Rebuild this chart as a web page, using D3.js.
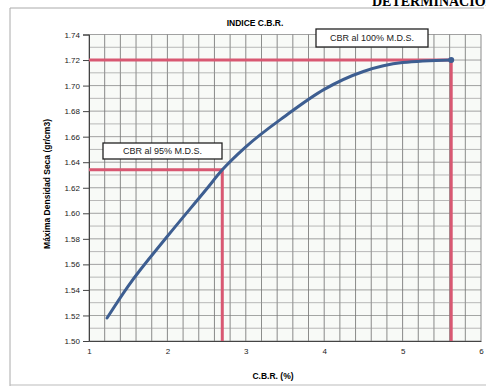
<!DOCTYPE html>
<html>
<head>
<meta charset="utf-8">
<script src="https://cdn.jsdelivr.net/npm/d3@7"></script>
<style>
  body { margin: 0; background: #fff; }
  text { font-family: "Liberation Sans", Arial, sans-serif; }
</style>
</head>
<body>
<svg id="chart" width="486" height="386"></svg>
<script>
// values
const cbrValues = [1.23, 1.5, 2.0, 2.5, 2.7, 3.0, 3.5, 4.0, 4.5, 5.0, 5.62];
const densityValues = [1.518, 1.543, 1.582, 1.619, 1.634, 1.652, 1.676, 1.697, 1.711, 1.718, 1.720];
const xTicks = [1, 2, 3, 4, 5, 6];
const yTicks = [1.50, 1.52, 1.54, 1.56, 1.58, 1.60, 1.62, 1.64, 1.66, 1.68, 1.70, 1.72, 1.74];
const mds = 1.72, cbr100 = 5.62;
const dens95 = 1.634, cbr95 = 2.70;

const svg = d3.select("#chart");
const plotL = 89, plotR = 481, plotT = 34.5, plotB = 341;

const x = d3.scaleLinear().domain([1, 6]).range([plotL, plotR]);
const y = d3.scaleLinear().domain([1.50, 1.74]).range([plotB, plotT]);

// outer frame
svg.append("path")
    .attr("d", "M10,386 L10,8 L484,8")
    .attr("fill", "none").attr("stroke", "#aaa").attr("stroke-width", 1);
svg.append("line").attr("x1", 10).attr("x2", 486).attr("y1", 385).attr("y2", 385)
    .attr("stroke", "#bbb");

// header cut off at top
svg.append("text")
    .attr("x", 372).attr("y", 6)
    .style("font-family", "'Liberation Serif', serif")
    .style("font-weight", "bold").style("font-size", "14px")
    .text("DETERMINACIÓN");

// plot background
svg.append("rect")
    .attr("x", plotL).attr("y", plotT)
    .attr("width", plotR - plotL).attr("height", plotB - plotT)
    .attr("fill", "#f8faf7");

// grid
const g = svg.append("g");
g.selectAll("line.vminor")
    .data(d3.range(1, 6.001, 0.2))
    .enter().append("line")
    .attr("x1", d => x(d)).attr("x2", d => x(d))
    .attr("y1", plotT).attr("y2", plotB)
    .attr("stroke", "#555").attr("stroke-width", 0.9).attr("opacity", 0.75);
g.selectAll("line.hminor")
    .data(d3.range(1.50, 1.7401, 0.01))
    .enter().append("line")
    .attr("x1", plotL).attr("x2", plotR)
    .attr("y1", d => y(d)).attr("y2", d => y(d))
    .attr("stroke", (d, i) => i % 2 === 0 ? "#777" : "#999")
    .attr("stroke-width", 0.9).attr("opacity", 0.75);

// axes
const yAxis = d3.axisLeft(y).tickValues(yTicks).tickFormat(d3.format(".2f")).tickSize(6);
svg.append("g")
    .attr("transform", `translate(${plotL},0)`)
    .call(yAxis)
    .call(a => a.select(".domain").attr("stroke", "#444"))
    .call(a => a.selectAll(".tick line").attr("stroke", "#444"))
    .call(a => a.selectAll(".tick text").attr("fill", "#222").style("font-size", "8px")
        .attr("x", -9));

const xAxis = d3.axisBottom(x).tickValues(xTicks).tickFormat(d3.format("d")).tickSize(0);
svg.append("g")
    .attr("transform", `translate(0,${plotB})`)
    .call(xAxis)
    .call(a => a.select(".domain").attr("stroke", "#444"))
    .call(a => a.selectAll(".tick text").attr("fill", "#222").style("font-size", "8px")
        .attr("dy", "1.3em"));

// title and axis labels
svg.append("text")
    .attr("x", 255).attr("y", 26)
    .attr("text-anchor", "middle")
    .style("font-size", "8.5px").style("font-weight", "bold")
    .text("INDICE C.B.R.");
svg.append("text")
    .attr("x", 273).attr("y", 379)
    .attr("text-anchor", "middle")
    .style("font-size", "8.5px").style("font-weight", "bold")
    .text("C.B.R. (%)");
svg.append("text")
    .attr("transform", "translate(50,184) rotate(-90)")
    .attr("text-anchor", "middle")
    .style("font-size", "8.5px").style("font-weight", "bold")
    .text("Máxima Densidad Seca (gr/cm3)");

// reference lines
const red = "#d85872";
const refLines = [
    [[1, mds], [cbr100, mds], [cbr100, 1.50]],
    [[1, dens95], [cbr95, dens95], [cbr95, 1.50]]
];
svg.selectAll("path.ref")
    .data(refLines)
    .enter().append("path")
    .attr("class", "ref")
    .attr("d", d3.line().x(d => x(d[0])).y(d => y(d[1])))
    .attr("fill", "none").attr("stroke", red).attr("stroke-width", 3);

// curve
const pts = cbrValues.map((c, i) => [c, densityValues[i]]);
svg.append("path")
    .datum(pts)
    .attr("d", d3.line().x(d => x(d[0])).y(d => y(d[1])).curve(d3.curveMonotoneX))
    .attr("fill", "none").attr("stroke", "#3d5e91").attr("stroke-width", 3)
    .attr("stroke-linecap", "round");
svg.append("circle")
    .attr("cx", x(cbr100)).attr("cy", y(mds)).attr("r", 3)
    .attr("fill", "#3d5e91");

// annotation boxes
const notes = [
    { label: "CBR al 100% M.D.S.", x0: 316, y0: 29, w: 112, h: 18 },
    { label: "CBR al 95% M.D.S.", x0: 103, y0: 143, w: 119, h: 16 }
];
const ng = svg.selectAll("g.note").data(notes).enter().append("g");
ng.append("rect")
    .attr("x", d => d.x0).attr("y", d => d.y0)
    .attr("width", d => d.w).attr("height", d => d.h)
    .attr("fill", "#fff").attr("stroke", "#222").attr("stroke-width", 1.3);
ng.append("text")
    .attr("x", d => d.x0 + d.w / 2).attr("y", d => d.y0 + d.h / 2)
    .attr("dy", "0.35em").attr("text-anchor", "middle")
    .style("font-size", "9px").attr("fill", "#222")
    .text(d => d.label);
</script>
</body>
</html>
